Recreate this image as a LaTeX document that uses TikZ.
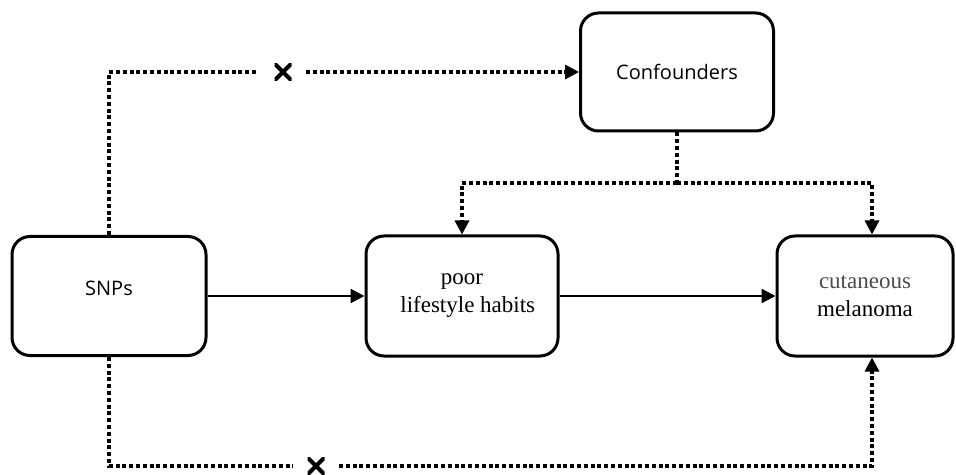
\documentclass[tikz,border=0pt]{standalone}
\usepackage{fontspec}
\setmainfont{Liberation Serif}
\setsansfont{Open Sans}
\usetikzlibrary{positioning,arrows.meta}
\tikzset{
>={Triangle[length=7pt,width=7pt]},
every box/.style={draw, line width=1.5pt, rounded corners=9pt, fill=white, align=center},
serif text/.style={font=\fontsize{11.5}{14}\selectfont},
dotline/.style={line width=1.6pt, dash pattern=on 2pt off 1.4pt},
solidline/.style={line width=1.2pt},
crossmark/.style={minimum size=8.5pt, inner sep=0pt,
  path picture={\draw[line width=2pt, line cap=round]
    (path picture bounding box.south west) -- (path picture bounding box.north east)
    (path picture bounding box.north west) -- (path picture bounding box.south east);}},
}

\begin{document}
\begin{tikzpicture}[x=0.5pt,y=-0.5pt]
        \useasboundingbox (0,0) rectangle (956,475);
        \node[every box, minimum width=97pt, minimum height=59.5pt, font=\sffamily, text depth=8pt] (snps) at (109,296) {SNPs};
        \node[every box, serif text, minimum width=96pt, minimum height=60pt] (habits) at (462,296) {poor\\ \ \ lifestyle habits};
        \node[every box, serif text, minimum width=88pt, minimum height=60pt] (melan) at (865,296) {\textcolor{black!70}{cutaneous}\\melanoma};
        \node[every box, minimum width=96.5pt, minimum height=59pt, font=\sffamily] (conf) at (677,72) {Confounders};
        \node[crossmark] (crosstop) at (283,72) {};
        \node[crossmark] (crossbot) at (316,466) {};
        \coordinate (jn) at (677,183);
        
        \draw[solidline,->] (snps) -- (habits);
        \draw[solidline,->] (habits) -- (melan);
        \draw[dotline] (snps.north) |- ([xshift=-8pt]crosstop.west);
        \draw[dotline,->] ([xshift=7pt]crosstop.east) -- (conf.west);
        \draw[dotline] (conf.south) -- (jn);
        \draw[dotline,->] (jn) -| (habits.north);
        \draw[dotline,->] (jn) -| ([xshift=3.5pt]melan.north);
        \draw[dotline] (snps.south) |- ([xshift=-7pt]crossbot.west);
        \draw[dotline,->] ([xshift=7pt]crossbot.east) -| ([xshift=3.5pt]melan.south);
        
    \end{tikzpicture}
\end{document}
